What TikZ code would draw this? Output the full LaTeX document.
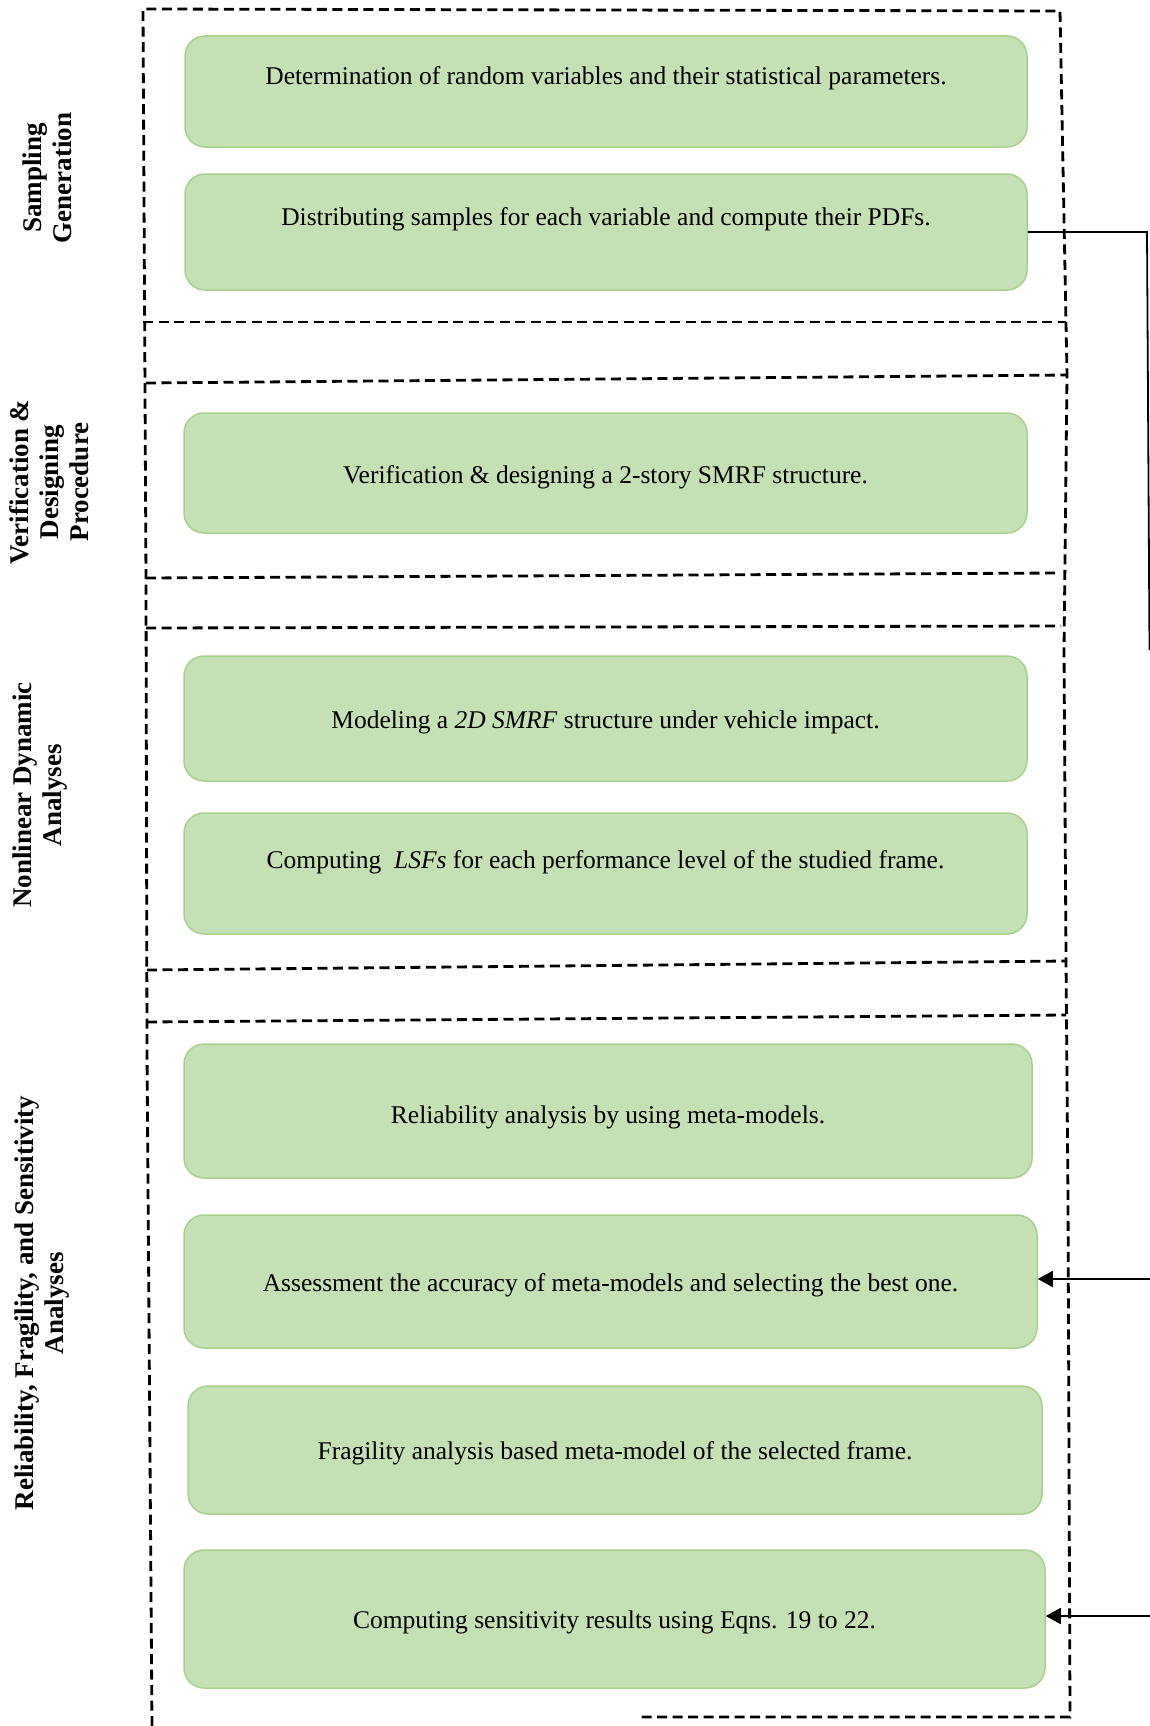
\documentclass[tikz,border=0pt]{standalone}
\usepackage{fontspec}
\setmainfont{Liberation Serif}
\usetikzlibrary{arrows.meta}

\definecolor{boxfill}{HTML}{C5E0B4}
\definecolor{boxedge}{HTML}{A9D18E}

\tikzset{
  stage/.style={draw=boxedge, fill=boxfill, line width=1.5pt, rounded corners=20pt,
    inner sep=0pt},
  stagetext/.style={inner sep=0pt, font=\fontsize{25.5}{30}\selectfont},
  phase/.style={rotate=90, align=center, inner sep=0pt,
    font=\fontsize{27}{30}\selectfont\bfseries},
  frame/.style={line width=2.8pt, dash pattern=on 10pt off 5.5pt},
  conn/.style={line width=1.8pt},
  tip/.style={-{Triangle[length=15pt,width=16pt]}}
}

\begin{document}
\begin{tikzpicture}[x=1pt,y=-1pt]
\useasboundingbox (0,0) rectangle (1150,1726);

% dashed phase frames
\draw[frame] (152,1726) -- (147,1050) -- (146,580) -- (143,9) -- (1060,11)
  -- (1067,375) -- (1064,650) -- (1066,960) -- (1068,1200) -- (1070,1717) -- (640,1717);
\draw[frame] (143,322) -- (1066,322);
\draw[frame] (146,383) -- (1067,375);
\draw[frame] (146,578) -- (1057,573);
\draw[frame] (146,628) -- (1061,626);
\draw[frame] (147,970) -- (1066,961);
\draw[frame] (147,1022) -- (1066,1015);

% phase titles
\node[phase] (p1) at (47,178) {Sampling\\Generation};
\node[phase] (p2) at (49,482) {Verification \&\\Designing\\Procedure};
\node[phase] (p3) at (40,795) {Nonlinear Dynamic\\Analyses};
\node[phase] (p4) at (42,1303) {Reliability, Fragility, and Sensitivity\\Analyses};

% step boxes
\node[stage, minimum width=842pt, minimum height=111pt] (b1) at (606,91.5) {};
\node[stage, minimum width=842pt, minimum height=116pt] (b2) at (606,232) {};
\node[stage, minimum width=843pt, minimum height=120pt] (b3) at (605.5,473) {};
\node[stage, minimum width=843pt, minimum height=125pt] (b4) at (605.5,718.5) {};
\node[stage, minimum width=843pt, minimum height=121pt] (b5) at (605.5,873.5) {};
\node[stage, minimum width=848pt, minimum height=134pt] (b6) at (608,1111) {};
\node[stage, minimum width=853pt, minimum height=133pt] (b7) at (610.5,1281.5) {};
\node[stage, minimum width=854pt, minimum height=128pt] (b8) at (615,1450) {};
\node[stage, minimum width=861pt, minimum height=138pt] (b9) at (614.5,1619) {};

% step texts
\node[stagetext] (t1) at (606,78.5) {Determination of random variables and their statistical parameters.};
\node[stagetext] (t2) at (606,219.5) {Distributing samples for each variable and compute their PDFs.};
\node[stagetext] (t3) at (605.5,477) {Verification \& designing a 2-story SMRF structure.};
\node[stagetext] (t4) at (605.5,722) {Modeling a \textit{2D SMRF} structure under vehicle impact.};
\node[stagetext] (t5) at (605.5,862) {Computing\ \ \textit{LSFs}\ for each performance level of the studied frame.};
\node[stagetext] (t6) at (608,1117) {Reliability analysis by using meta-models.};
\node[stagetext] (t7) at (610.5,1285.5) {Assessment the accuracy of meta-models and selecting the best one.};
\node[stagetext] (t8) at (615,1453) {Fragility analysis based meta-model of the selected frame.};
\node[stagetext] (t9) at (614.5,1622.5) {Computing sensitivity results using Eqns. 19 to 22.};

% feedback connectors along the right edge
\coordinate (r1) at (1147,232);
\coordinate (r2) at (1149.5,650);
\coordinate (a1) at (1150,1279);
\coordinate (a2) at (1150,1616);
\draw[conn] (b2.east) -- (r1) -- (r2);
\draw[conn,tip] (a1) -- (a1 -| b7.east);
\draw[conn,tip] (a2) -- (a2 -| b9.east);
\end{tikzpicture}
\end{document}
